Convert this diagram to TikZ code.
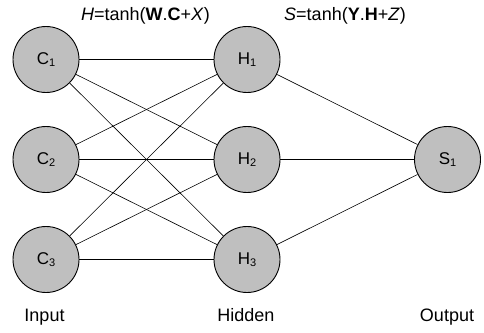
\documentclass[tikz,border=0pt]{standalone}
\usepackage{fontspec}
\setmainfont{Liberation Sans}
\begin{document}
\begin{tikzpicture}[x=1pt,y=-1pt,
  neuron/.style={circle,draw=black,line width=0.9pt,fill=black!25,minimum size=66pt,inner sep=0pt,font=\fontsize{17}{17}\selectfont},
  conn/.style={line width=0.6pt,draw=black},
  lbl/.style={font=\fontsize{18}{18}\selectfont,anchor=base,inner sep=0pt}]
\useasboundingbox (0,0) rectangle (484,332);
\newcommand{\sbs}[1]{\raisebox{-2.5pt}{\fontsize{11}{11}\selectfont #1}}
\node[neuron] (C1) at (46,59.5) {C\sbs{1}};
\node[neuron] (C2) at (46,159.5) {C\sbs{2}};
\node[neuron] (C3) at (46,259.5) {C\sbs{3}};
\node[neuron] (H1) at (247,59.5) {H\sbs{1}};
\node[neuron] (H2) at (247,159.5) {H\sbs{2}};
\node[neuron] (H3) at (247,259.5) {H\sbs{3}};
\node[neuron] (S1) at (447.5,159.5) {S\sbs{1}};
\foreach \c in {C1,C2,C3}{
  \foreach \h in {H1,H2,H3}{
    \draw[conn] (\c) -- (\h);
  }
}
\foreach \h in {H1,H2,H3}{
  \draw[conn] (\h) -- (S1);
}
\node[lbl] (fh) at (145.5,20) {\textit{H}=tanh(\textbf{W}.\textbf{C}+\textit{X})};
\node[lbl] (fs) at (345,20) {\textit{S}=tanh(\textbf{Y}.\textbf{H}+\textit{Z})};
\node[lbl] (in) at (44.5,321) {Input};
\node[lbl] (hid) at (246,321) {Hidden};
\node[lbl] (out) at (447,321) {Output};
\end{tikzpicture}
\end{document}
